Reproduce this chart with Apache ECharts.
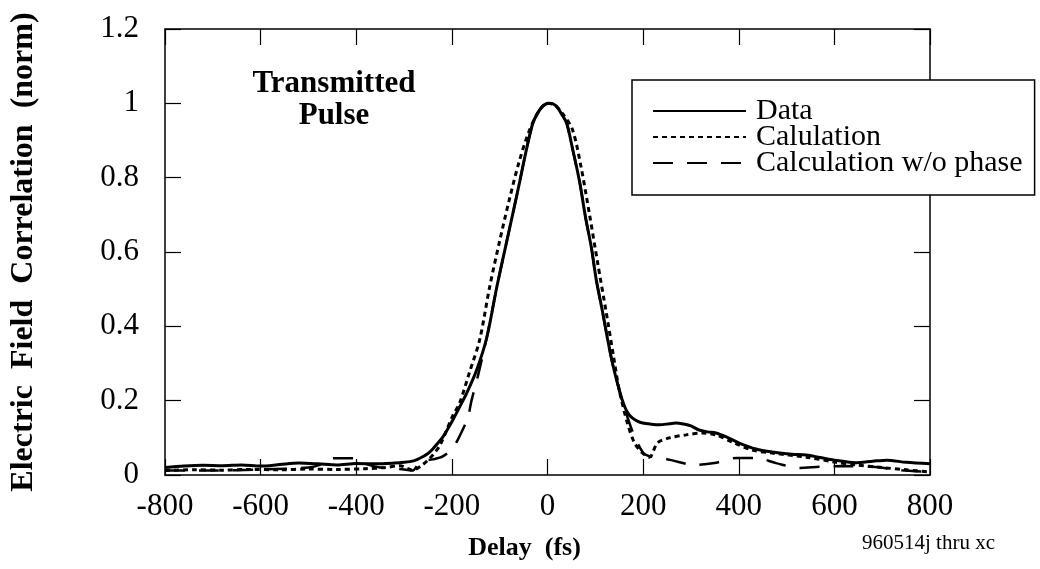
<!DOCTYPE html>
<html>
<head>
<meta charset="utf-8">
<script src="https://cdn.jsdelivr.net/npm/echarts@6/dist/echarts.min.js"></script>
<style>
html,body{margin:0;padding:0;background:#fff;}
#chart{width:1040px;height:569px;}
</style>
</head>
<body>
<div id="chart"></div>
<script>
// ---- Data ----
const xTicks = [-800, -600, -400, -200, 0, 200, 400, 600, 800];
const yTicks = [0, 0.2, 0.4, 0.6, 0.8, 1, 1.2];

const seriesNames = ['Data', 'Calulation', 'Calculation w/o phase'];

const dataX = [-800,-760,-720,-680,-640,-600,-560,-520,-480,-440,-400,-360,-320,-300,-280,-267,-250,-240,-230,-219,-209,-198,-185,-169,-148,-127,-106,-85,-68,-58,-45,-31,-20,-8,5,18,30,40,52,67,80,92,102,115,125,136,150,161,170,178,188,199,215,234,255,269,285,300,317,335,352,373,401,436,470,511,541,570,600,645,680,710,750,800];
const dataY = [0.02,0.024,0.026,0.025,0.027,0.024,0.028,0.032,0.03,0.027,0.031,0.03,0.032,0.034,0.038,0.045,0.058,0.07,0.085,0.102,0.123,0.148,0.18,0.22,0.283,0.37,0.506,0.63,0.73,0.79,0.87,0.945,0.975,0.995,1.0,0.993,0.97,0.947,0.88,0.79,0.69,0.61,0.525,0.44,0.37,0.3,0.229,0.185,0.163,0.153,0.145,0.14,0.137,0.135,0.138,0.14,0.137,0.132,0.121,0.116,0.113,0.103,0.086,0.07,0.062,0.056,0.054,0.047,0.04,0.033,0.037,0.04,0.034,0.03];

const calcX = [-800,-740,-680,-620,-560,-500,-440,-380,-340,-309,-282,-262,-246,-225,-198,-184,-163,-142,-121,-100,-80,-60,-40,-20,0,15,30,52,70,88,105,123,138,150,167,181,196,213,230,255,290,324,352,386,428,470,541,600,645,700,750,800];
const calcY = [0.012,0.014,0.013,0.015,0.014,0.016,0.015,0.017,0.02,0.025,0.013,0.027,0.045,0.08,0.16,0.193,0.277,0.363,0.506,0.63,0.74,0.84,0.92,0.975,1.0,0.995,0.975,0.93,0.83,0.7,0.57,0.436,0.32,0.229,0.14,0.089,0.062,0.048,0.086,0.1,0.108,0.113,0.108,0.089,0.067,0.059,0.048,0.035,0.027,0.02,0.014,0.008];

const noPhaseX = [-800,-700,-600,-500,-470,-448,-402,-380,-350,-300,-282,-267,-240,-219,-200,-188,-167,-159,-146,-127,-106,-85,-68,-58,-45,-31,-20,-8,5,18,30,40,52,67,80,92,102,115,125,136,150,161,180,200,215,240,259,307,349,395,436,478,526,570,620,680,740,800];
const noPhaseY = [0.012,0.012,0.015,0.02,0.03,0.045,0.045,0.03,0.02,0.015,0.012,0.035,0.042,0.05,0.07,0.094,0.153,0.2,0.264,0.37,0.506,0.63,0.73,0.79,0.87,0.945,0.975,0.995,1.0,0.993,0.97,0.947,0.88,0.79,0.69,0.61,0.525,0.44,0.37,0.3,0.229,0.18,0.11,0.06,0.05,0.045,0.04,0.027,0.032,0.046,0.046,0.032,0.019,0.022,0.024,0.022,0.013,0.008];

function pairs(xs, ys){ return xs.map((x,i)=>[x, ys[i]]); }

const serif = '"Liberation Serif", "Times New Roman", serif';
const chart = echarts.init(document.getElementById('chart'), null, {renderer:'canvas'});

const frameLine = {show:true, onZero:false, lineStyle:{color:'#000', width:1.5}};
const tickIn = {show:true, inside:true, length:16, lineStyle:{color:'#000', width:1.2}};

chart.setOption({
  animation:false,
  backgroundColor:'#fff',
  grid:{left:164, right:110, top:29, bottom:94, containLabel:false},
  xAxis:[{
    type:'value', min:xTicks[0], max:xTicks[xTicks.length-1], interval:200,
    position:'bottom',
    axisLine:frameLine, axisTick:tickIn, splitLine:{show:false},
    axisLabel:{color:'#000', fontFamily:serif, fontSize:31, margin:16},
    name:'Delay  (fs)', nameLocation:'middle', nameGap:60,
    nameTextStyle:{color:'#000', fontFamily:serif, fontSize:26, fontWeight:'bold', padding:[0,46,0,0]}
  },{
    type:'value', min:xTicks[0], max:xTicks[xTicks.length-1], interval:200,
    position:'top',
    axisLine:frameLine, axisTick:tickIn, axisLabel:{show:false}, splitLine:{show:false}
  }],
  yAxis:[{
    type:'value', min:yTicks[0], max:yTicks[yTicks.length-1], interval:0.2,
    position:'left',
    axisLine:frameLine, axisTick:tickIn, splitLine:{show:false},
    axisLabel:{color:'#000', fontFamily:serif, fontSize:31, margin:26},
    name:'Electric  Field  Correlation  (norm)', nameLocation:'middle', nameGap:125, nameRotate:90,
    nameTextStyle:{color:'#000', fontFamily:serif, fontSize:32, fontWeight:'bold'}
  },{
    type:'value', min:yTicks[0], max:yTicks[yTicks.length-1], interval:0.2,
    position:'right',
    axisLine:frameLine, axisTick:tickIn, axisLabel:{show:false}, splitLine:{show:false}
  }],
  legend:{
    orient:'vertical', left:632, top:80,
    padding:[16,12,17,20],
    itemWidth:93, itemHeight:26, itemGap:-4,
    borderColor:'#000', borderWidth:1.5, backgroundColor:'#fff',
    itemStyle:{opacity:0},
    textStyle:{color:'#000', fontFamily:serif, fontSize:30, padding:[0,0,0,5]},
    data:seriesNames
  },
  graphic:[
    {type:'text', x:334, y:100, style:{text:'Transmitted\nPulse', fill:'#000', font:'bold 31px ' + serif, align:'center', verticalAlign:'middle', lineHeight:32}},
    {type:'text', x:862, y:543, style:{text:'960514j thru xc', fill:'#000', font:'21px ' + serif, align:'left', verticalAlign:'middle'}}
  ],
  series:[
    {name:seriesNames[0], type:'line', data:pairs(dataX,dataY), showSymbol:false, symbol:'none', smooth:0.3,
     lineStyle:{color:'#000', width:3, type:'solid'}, itemStyle:{color:'#000'}, z:3},
    {name:seriesNames[1], type:'line', data:pairs(calcX,calcY), showSymbol:false, symbol:'none', smooth:0.3,
     lineStyle:{color:'#000', width:3, type:[5,4]}, itemStyle:{color:'#000'}, z:2},
    {name:seriesNames[2], type:'line', data:pairs(noPhaseX,noPhaseY), showSymbol:false, symbol:'none', smooth:0.3,
     lineStyle:{color:'#000', width:2.5, type:[20,14]}, itemStyle:{color:'#000'}, z:2}
  ]
});
</script>
</body>
</html>
